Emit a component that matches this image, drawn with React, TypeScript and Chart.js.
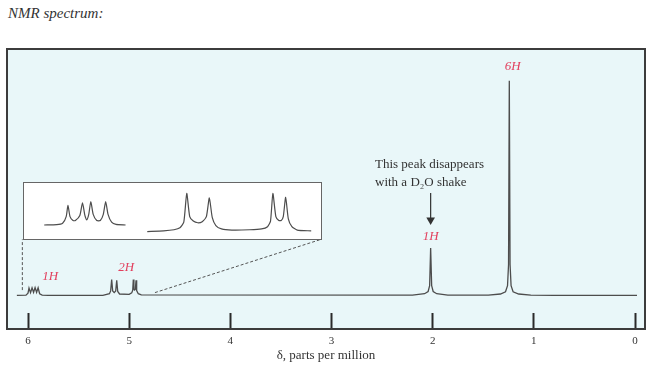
import React, { useEffect, useRef } from 'react';
import { Chart, registerables } from 'chart.js';

Chart.register(...registerables);

// ---- main spectrum (chemical shift in ppm, intensity above baseline) ----
const spectrumPpm = [
  6.11, 6.02, 6.0, 5.99, 5.975, 5.96, 5.945, 5.93, 5.915, 5.9, 5.885, 5.86, 5.8,
  5.26, 5.195, 5.183, 5.173, 5.163, 5.148, 5.133, 5.123, 5.113, 5.095,
  5.0, 4.975, 4.965, 4.959, 4.953, 4.946, 4.939, 4.932, 4.926, 4.91, 4.88,
  2.2, 2.08, 2.045, 2.03, 2.02, 2.01, 1.995, 1.96, 1.85,
  1.45, 1.33, 1.28, 1.26, 1.25, 1.2425, 1.235, 1.225, 1.205, 1.15, 1.03, 0.8, -0.02,
];
const spectrumIntensity = [
  0, 0.1, 0.8, 2.6, 1.0, 2.7, 1.1, 2.8, 1.1, 2.7, 0.6, 0.1, 0,
  0, 0.6, 1.6, 5.7, 1.6, 1.0, 1.6, 5.4, 1.4, 0.5,
  0.4, 0.9, 1.8, 5.7, 2.2, 1.9, 2.2, 5.4, 1.7, 0.6, 0.2,
  0.1, 0.6, 1.4, 3.5, 16.9, 3.5, 1.4, 0.6, 0.1,
  0.1, 0.5, 1.3, 3.5, 11, 76.7, 11, 3.5, 1.3, 0.5, 0.1, 0, 0,
];

const xTickValues = [0, 1, 2, 3, 4, 5, 6];

// integration labels
const peakLabels = ['1H', '2H', '1H', '6H'];
const peakLabelPpm = [5.78, 5.03, 2.02, 1.21];
const peakLabelIntensity = [6.6, 10.1, 21.0, 81.6];

// annotation
const noteLines = ['This peak disappears', 'with a D\u2082O shake'];
const noteLinePpm = 2.57;
const noteLineIntensity = [46.6, 40.3];
const arrowPpm = [2.02, 2.02];
const arrowIntensity = [36.6, 26.9];

// dashed connectors between spectrum and inset
const connectorLeftPpm = [6.056, 6.056];
const connectorLeftIntensity = [1.9, 20.0];
const connectorRightPpm = [4.745, 3.104];
const connectorRightIntensity = [1.0, 20.0];

// ---- inset (expanded 6.0 and 5.2–4.9 ppm regions), relative units 0–100 ----
const insetLeftX = [6.8, 11, 13, 14.2, 14.8, 15.5, 16.5, 17.3, 18.8, 19.7, 20.5, 21.1, 21.8, 22.5, 23.3, 24.5, 25.7, 26.7, 27.5, 28.3, 29.5, 31, 34.2];
const insetLeftY = [25, 25.5, 28, 40, 59.9, 40, 33, 33, 42, 64.6, 42, 34, 44, 66.8, 44, 33, 33, 44, 66.8, 44, 30, 26, 25];
const insetRightX = [41.5, 47, 50.5, 52.5, 53.8, 54.8, 55.8, 57, 58.5, 60, 61.4, 62.4, 63.4, 64.6, 66.5, 70, 76, 80, 82, 83, 83.8, 84.8, 85.8, 86.6, 87.3, 88.1, 89, 90.2, 92, 96.7];
const insetRightY = [13.3, 14.5, 16.5, 20, 30, 81.3, 40, 32, 29, 31, 40, 73.3, 38, 24, 18, 16, 16.5, 18, 22, 32, 81.3, 40, 33, 33, 40, 74.3, 36, 22, 16, 14.5];

const SERIF = '"Liberation Serif", "DejaVu Serif", serif';
const INK = '#333333';
const LINE = '#4d4d4d';
const RED = '#e2405e';
const PLOT_BG = '#e9f7f9';

const zip = (xs: number[], ys: number[]) => xs.map((x, i) => ({ x, y: ys[i] }));

export default function App() {
  const mainRef = useRef<HTMLCanvasElement | null>(null);
  const insetRef = useRef<HTMLCanvasElement | null>(null);

  useEffect(() => {
    if (!mainRef.current || !insetRef.current) return;

    const boxPlugin = {
      id: 'plotBox',
      beforeDraw(chart: any) {
        const { ctx, chartArea: a } = chart;
        ctx.save();
        ctx.fillStyle = PLOT_BG;
        ctx.fillRect(a.left, a.top, a.right - a.left, a.bottom - a.top);
        ctx.restore();
      },
      afterDraw(chart: any) {
        const { ctx, chartArea: a } = chart;
        ctx.save();
        ctx.strokeStyle = '#3c3c3c';
        ctx.lineWidth = 2;
        ctx.strokeRect(a.left, a.top, a.right - a.left, a.bottom - a.top);
        ctx.restore();
      },
    };

    const textPlugin = {
      id: 'texts',
      afterDatasetsDraw(chart: any) {
        const { ctx } = chart;
        const xs = chart.scales.x;
        const ys = chart.scales.y;
        ctx.save();
        ctx.textBaseline = 'middle';
        ctx.textAlign = 'center';
        ctx.fillStyle = RED;
        ctx.font = `italic 13px ${SERIF}`;
        peakLabels.forEach((t, i) => {
          ctx.fillText(t, xs.getPixelForValue(peakLabelPpm[i]), ys.getPixelForValue(peakLabelIntensity[i]));
        });
        ctx.textAlign = 'left';
        ctx.fillStyle = INK;
        ctx.font = `13px ${SERIF}`;
        noteLines.forEach((t, i) => {
          ctx.fillText(t, xs.getPixelForValue(noteLinePpm), ys.getPixelForValue(noteLineIntensity[i]));
        });
        ctx.restore();
      },
    };

    const main = new Chart(mainRef.current, {
      type: 'line',
      data: {
        datasets: [
          {
            data: zip(spectrumPpm, spectrumIntensity),
            borderColor: LINE,
            borderWidth: 1.3,
            pointRadius: 0,
            tension: 0,
          },
          {
            data: zip(connectorLeftPpm, connectorLeftIntensity),
            borderColor: '#555',
            borderWidth: 1,
            borderDash: [3, 2],
            pointRadius: 0,
          },
          {
            data: zip(connectorRightPpm, connectorRightIntensity),
            borderColor: '#555',
            borderWidth: 1,
            borderDash: [3, 2],
            pointRadius: 0,
          },
          {
            data: zip(arrowPpm, arrowIntensity),
            borderColor: '#333',
            backgroundColor: '#333',
            borderWidth: 1.2,
            pointRadius: [0, 5],
            pointStyle: 'triangle',
            rotation: 180,
            pointBorderWidth: 0,
          },
        ],
      },
      options: {
        animation: false,
        responsive: false,
        devicePixelRatio: 1,
        layout: { padding: { top: 49, left: 7, right: 5, bottom: 1.2 } },
        plugins: { legend: { display: false }, tooltip: { enabled: false }, title: { display: false } },
        scales: {
          x: {
            type: 'linear',
            reverse: true,
            min: -0.0988,
            max: 6.2076,
            afterBuildTicks: (scale: any) => {
              scale.ticks = xTickValues.map((v) => ({ value: v }));
            },
            afterFit: (scale: any) => {
              scale.height = 34.8;
            },
            grid: {
              drawOnChartArea: false,
              drawTicks: true,
              tickLength: -16,
              tickWidth: 2,
              tickColor: '#2a2a2a',
            },
            border: { display: false },
            ticks: {
              padding: 22,
              color: INK,
              font: { family: SERIF, size: 11 },
              maxRotation: 0,
              autoSkip: false,
            },
            title: {
              display: true,
              text: '\u03b4, parts per million',
              color: INK,
              font: { family: SERIF, size: 13 },
              padding: 0,
            },
          },
          y: {
            type: 'linear',
            display: false,
            min: -12,
            max: 88,
          },
        },
      },
      plugins: [boxPlugin, textPlugin],
    } as any);

    const inset = new Chart(insetRef.current, {
      type: 'line',
      data: {
        datasets: [
          { data: zip(insetLeftX, insetLeftY), borderColor: LINE, borderWidth: 1.2, pointRadius: 0, tension: 0.2 },
          { data: zip(insetRightX, insetRightY), borderColor: LINE, borderWidth: 1.2, pointRadius: 0, tension: 0.2 },
        ],
      },
      options: {
        animation: false,
        responsive: false,
        devicePixelRatio: 1,
        layout: { padding: 0 },
        plugins: { legend: { display: false }, tooltip: { enabled: false } },
        scales: {
          x: { type: 'linear', display: false, min: 0, max: 100 },
          y: { type: 'linear', display: false, min: 0, max: 100 },
        },
      },
    } as any);

    return () => {
      main.destroy();
      inset.destroy();
    };
  }, []);

  return (
    <div style={{ position: 'absolute', left: 0, top: 0, width: 650, height: 365, background: '#fff', overflow: 'hidden' }}>
      <div
        style={{
          position: 'absolute',
          left: 8,
          top: 4,
          fontFamily: SERIF,
          fontStyle: 'italic',
          fontSize: 15,
          color: INK,
          lineHeight: '18px',
        }}
      >
        NMR spectrum:
      </div>
      <canvas ref={mainRef} width={650} height={365} style={{ position: 'absolute', left: 0, top: 0 }} />
      <div
        style={{
          position: 'absolute',
          left: 23,
          top: 182,
          width: 299,
          height: 58,
          boxSizing: 'border-box',
          border: '1px solid #666',
          background: '#fff',
        }}
      >
        <canvas ref={insetRef} width={297} height={56} style={{ display: 'block' }} />
      </div>
    </div>
  );
}
